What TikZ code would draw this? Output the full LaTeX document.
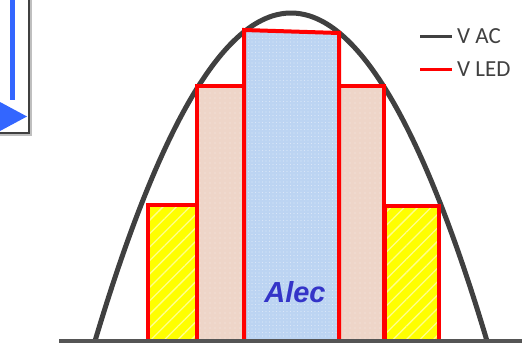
\documentclass[tikz,border=0pt]{standalone}
\usepackage{fontspec}
\setmainfont{Liberation Sans}
\newfontfamily\legendfont{Carlito}
\usetikzlibrary{patterns.meta}
\definecolor{acgray}{HTML}{404040}
\definecolor{basegray}{HTML}{555555}
\definecolor{ledred}{HTML}{FF0000}
\definecolor{yellowf}{HTML}{FFFF00}
\definecolor{pinkf}{HTML}{EED5C8}
\definecolor{bluef}{HTML}{BCD4F2}
\definecolor{alecblue}{HTML}{3434C8}
\definecolor{arrowblue}{HTML}{3366FF}
\tikzset{
  barline/.style={draw=ledred, line width=4pt, line join=miter},
  yellowbar/.style={barline, preaction={fill=yellowf},
    pattern={Lines[angle=45,distance=9.5pt,line width=1.3pt]}, pattern color=white!55!yellowf},
  pinkbar/.style={barline, preaction={fill=pinkf},
    pattern={Dots[distance=5pt,radius=0.6pt]}, pattern color=white!50!pinkf},
  bluebar/.style={barline, preaction={fill=bluef},
    pattern={Dots[distance=3.5pt,radius=0.55pt]}, pattern color=white!45!bluef},
  legtext/.style={anchor=west, inner sep=0pt, text=acgray, font=\legendfont\fontsize{23}{26}\selectfont},
  legline/.style={line width=3pt}
}
\begin{document}
\begin{tikzpicture}[x=1pt,y=-1pt]
\useasboundingbox (0,0) rectangle (522,343);
% left box fragment
\draw[gray!50, line width=2pt] (31,0) -- (31,135) -- (0,135);
\draw[acgray, line width=2pt] (29,0) -- (29,133) -- (0,133);
\fill[arrowblue] (10,0) rectangle (15,100);
\fill[arrowblue] (0,102) -- (27,116.5) -- (0,131) -- cycle;
% AC curve
\draw[acgray, line width=5pt] plot[domain=95:487, samples=100, smooth]
  (\x, {341-328*(1-((\x-291)/196)*((\x-291)/196))});
% LED bars
\draw[yellowbar] (148,341) -- (148,205) -- (197,205) -- (197,341);
\draw[yellowbar] (385,341) -- (385,206) -- (439,206) -- (439,341);
\draw[pinkbar] (197,341) -- (197,86) -- (244,86) -- (244,341);
\draw[pinkbar] (339,341) -- (339,86) -- (384,86) -- (384,341);
\draw[bluebar] (244,341) -- (244,30) -- (339,33) -- (339,341);
% baseline
\draw[basegray, line width=4pt] (59,341) -- (522,341);
\node[text=alecblue, font=\bfseries\itshape\fontsize{29}{34}\selectfont] (alec) at (295,292) {Alec};
% legend
\coordinate (aca) at (420,36);
\coordinate (acb) at (452,36);
\draw[legline, acgray] (aca) -- (acb);
\node[legtext] (vac) at (457,36) {V AC};
\coordinate (leda) at (420,69);
\coordinate (ledb) at (452,69);
\draw[legline, ledred] (leda) -- (ledb);
\node[legtext] (vled) at (457,69) {V LED};
\end{tikzpicture}
\end{document}
